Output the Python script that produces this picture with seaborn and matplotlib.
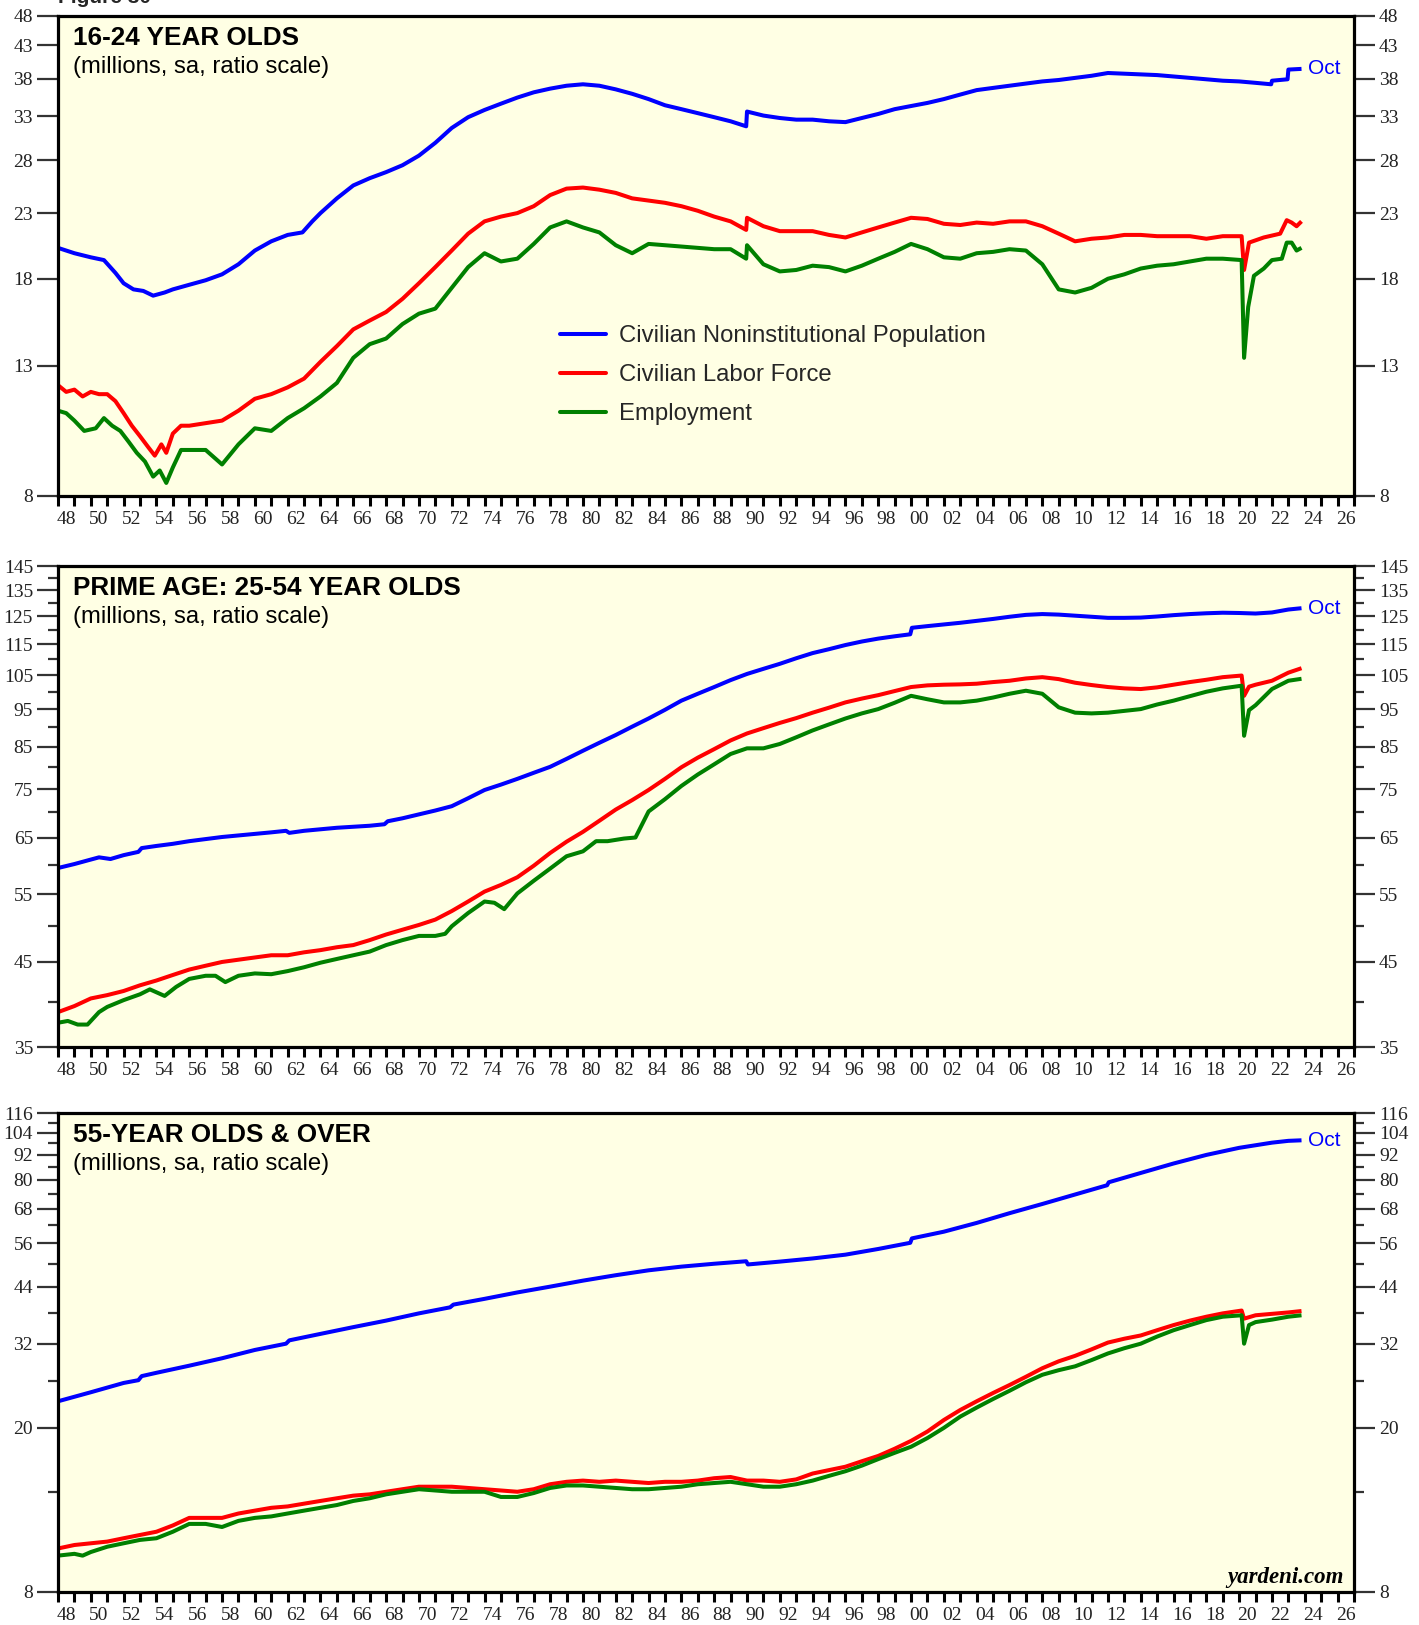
import matplotlib
matplotlib.use("Agg")
import matplotlib.pyplot as plt
import pandas as pd
import seaborn as sns
from matplotlib.lines import Line2D
from matplotlib.ticker import FixedLocator, FixedFormatter, NullFormatter

# ---------------- DATA (millions) ----------------
# 16-24 year olds
T_POP_YR = [1948.0, 1949.0, 1950.0, 1950.8, 1951.5, 1952.0, 1952.6, 1953.2, 1953.8, 1954.5, 1955.0, 1956.0, 1957.0,
            1958.0, 1959.0, 1960.0, 1961.0, 1962.0, 1962.9, 1963.5, 1964.0, 1965.0, 1966.0, 1967.0, 1968.0, 1969.0,
            1970.0, 1971.0, 1972.0, 1973.0, 1974.0, 1975.0, 1976.0, 1977.0, 1978.0, 1979.0, 1980.0, 1981.0, 1982.0,
            1983.0, 1984.0, 1985.0, 1986.0, 1987.0, 1988.0, 1989.0, 1989.95, 1990.0, 1991.0, 1992.0, 1993.0, 1994.0,
            1995.0, 1996.0, 1997.0, 1998.0, 1999.0, 2000.0, 2001.0, 2002.0, 2003.0, 2004.0, 2005.0, 2006.0, 2007.0,
            2008.0, 2009.0, 2010.0, 2011.0, 2012.0, 2013.0, 2014.0, 2015.0, 2016.0, 2017.0, 2018.0, 2019.0, 2020.0,
            2021.0, 2021.95, 2022.0, 2022.95, 2023.0, 2023.8]
T_POP = [20.2, 19.8, 19.5, 19.3, 18.4, 17.7, 17.3, 17.2, 16.9, 17.1, 17.3, 17.6, 17.9,
         18.3, 19.0, 20.0, 20.7, 21.2, 21.4, 22.3, 23.0, 24.3, 25.5, 26.2, 26.8, 27.5,
         28.5, 29.9, 31.6, 32.9, 33.8, 34.6, 35.4, 36.1, 36.6, 37.0, 37.2, 37.0, 36.5,
         35.9, 35.2, 34.4, 33.9, 33.4, 32.9, 32.4, 31.8, 33.6, 33.1, 32.8, 32.6, 32.6,
         32.4, 32.3, 32.8, 33.3, 33.9, 34.3, 34.7, 35.2, 35.8, 36.4, 36.7, 37.0, 37.3,
         37.6, 37.8, 38.1, 38.4, 38.8, 38.7, 38.6, 38.5, 38.3, 38.1, 37.9, 37.7, 37.6,
         37.4, 37.2, 37.7, 37.9, 39.3, 39.4]

T_LF_YR = [1948.0, 1948.5, 1949.0, 1949.5, 1950.0, 1950.5, 1951.0, 1951.5, 1952.0, 1952.5, 1953.0, 1953.5, 1953.9,
           1954.3, 1954.6, 1955.0, 1955.5, 1956.0, 1957.0, 1958.0, 1959.0, 1960.0, 1961.0, 1962.0, 1963.0, 1964.0,
           1965.0, 1966.0, 1967.0, 1968.0, 1969.0, 1970.0, 1971.0, 1972.0, 1973.0, 1974.0, 1975.0, 1976.0, 1977.0,
           1978.0, 1979.0, 1980.0, 1981.0, 1982.0, 1983.0, 1984.0, 1985.0, 1986.0, 1987.0, 1988.0, 1989.0, 1989.95,
           1990.0, 1991.0, 1992.0, 1993.0, 1994.0, 1995.0, 1996.0, 1997.0, 1998.0, 1999.0, 2000.0, 2001.0, 2002.0,
           2003.0, 2004.0, 2005.0, 2006.0, 2007.0, 2008.0, 2009.0, 2010.0, 2011.0, 2012.0, 2013.0, 2014.0, 2015.0,
           2016.0, 2017.0, 2018.0, 2019.0, 2020.15, 2020.3, 2020.6, 2021.5, 2022.5, 2022.9, 2023.2, 2023.5, 2023.8]
T_LF = [12.1, 11.8, 11.9, 11.6, 11.8, 11.7, 11.7, 11.4, 10.9, 10.4, 10.0, 9.6, 9.3,
        9.7, 9.4, 10.1, 10.4, 10.4, 10.5, 10.6, 11.0, 11.5, 11.7, 12.0, 12.4, 13.2,
        14.0, 14.9, 15.4, 15.9, 16.7, 17.7, 18.8, 20.0, 21.3, 22.3, 22.7, 23.0, 23.6,
        24.6, 25.2, 25.3, 25.1, 24.8, 24.3, 24.1, 23.9, 23.6, 23.2, 22.7, 22.3, 21.6,
        22.6, 21.9, 21.5, 21.5, 21.5, 21.2, 21.0, 21.4, 21.8, 22.2, 22.6, 22.5, 22.1,
        22.0, 22.2, 22.1, 22.3, 22.3, 21.9, 21.3, 20.7, 20.9, 21.0, 21.2, 21.2, 21.1,
        21.1, 21.1, 20.9, 21.1, 21.1, 18.6, 20.6, 21.0, 21.3, 22.4, 22.2, 21.9, 22.3]

T_EMP_YR = [1948.0, 1948.5, 1949.0, 1949.6, 1950.3, 1950.8, 1951.3, 1951.8, 1952.3, 1952.8, 1953.3, 1953.8, 1954.2,
            1954.6, 1955.0, 1955.5, 1956.0, 1957.0, 1958.0, 1959.0, 1960.0, 1961.0, 1962.0, 1963.0, 1964.0, 1965.0,
            1966.0, 1967.0, 1968.0, 1969.0, 1970.0, 1971.0, 1972.0, 1973.0, 1974.0, 1975.0, 1976.0, 1977.0, 1978.0,
            1979.0, 1980.0, 1981.0, 1982.0, 1983.0, 1984.0, 1985.0, 1986.0, 1987.0, 1988.0, 1989.0, 1989.95, 1990.0,
            1991.0, 1992.0, 1993.0, 1994.0, 1995.0, 1996.0, 1997.0, 1998.0, 1999.0, 2000.0, 2001.0, 2002.0, 2003.0,
            2004.0, 2005.0, 2006.0, 2007.0, 2008.0, 2009.0, 2010.0, 2011.0, 2012.0, 2013.0, 2014.0, 2015.0, 2016.0,
            2017.0, 2018.0, 2019.0, 2020.15, 2020.3, 2020.55, 2020.9, 2021.5, 2022.0, 2022.6, 2022.9, 2023.2, 2023.5,
            2023.8]
T_EMP = [11.0, 10.9, 10.6, 10.2, 10.3, 10.7, 10.4, 10.2, 9.8, 9.4, 9.1, 8.6, 8.8,
         8.4, 8.9, 9.5, 9.5, 9.5, 9.0, 9.7, 10.3, 10.2, 10.7, 11.1, 11.6, 12.2,
         13.4, 14.1, 14.4, 15.2, 15.8, 16.1, 17.4, 18.8, 19.8, 19.2, 19.4, 20.5, 21.8,
         22.3, 21.8, 21.4, 20.4, 19.8, 20.5, 20.4, 20.3, 20.2, 20.1, 20.1, 19.4, 20.4,
         19.0, 18.5, 18.6, 18.9, 18.8, 18.5, 18.9, 19.4, 19.9, 20.5, 20.1, 19.5, 19.4,
         19.8, 19.9, 20.1, 20.0, 19.0, 17.3, 17.1, 17.4, 18.0, 18.3, 18.7, 18.9, 19.0,
         19.2, 19.4, 19.4, 19.3, 13.4, 16.2, 18.2, 18.7, 19.3, 19.4, 20.6, 20.6, 20.0,
         20.2]

# Prime age: 25-54 year olds
P_POP_YR = [1948, 1949, 1950, 1950.5, 1951.2, 1952, 1952.9, 1953.1, 1954, 1955, 1956, 1957, 1958, 1959, 1960,
            1961, 1961.9, 1962.1, 1963, 1964, 1965, 1966, 1967, 1967.9, 1968.1, 1969, 1970, 1971, 1972, 1973,
            1974, 1975, 1976, 1977, 1978, 1979, 1980, 1981, 1982, 1983, 1984, 1985, 1986, 1987, 1988, 1989,
            1990, 1991, 1992, 1993, 1994, 1995, 1996, 1997, 1998, 1999, 1999.95, 2000.05, 2001, 2002, 2003,
            2004, 2005, 2006, 2007, 2008, 2009, 2010, 2011, 2012, 2013, 2014, 2015, 2016, 2017, 2018, 2019,
            2020, 2021, 2022, 2023, 2023.8]
P_POP = [59.4, 60.1, 60.9, 61.3, 61.0, 61.7, 62.3, 63.0, 63.4, 63.8, 64.3, 64.7, 65.1, 65.4, 65.7,
         66.0, 66.3, 65.9, 66.3, 66.6, 66.9, 67.1, 67.3, 67.6, 68.2, 68.8, 69.6, 70.4, 71.3, 73.0,
         74.8, 76.0, 77.3, 78.7, 80.1, 82.0, 84.0, 86.0, 88.0, 90.2, 92.4, 94.8, 97.4, 99.4, 101.4, 103.5,
         105.4, 107.0, 108.6, 110.4, 112.1, 113.4, 114.8, 116.0, 117.0, 117.8, 118.5, 120.8, 121.4, 122.0, 122.6,
         123.3, 124.0, 124.8, 125.5, 125.8, 125.6, 125.2, 124.8, 124.4, 124.4, 124.5, 124.9, 125.4, 125.8, 126.1,
         126.3, 126.2, 126.0, 126.4, 127.5, 128.0]

P_LF_YR = [1948, 1949, 1950, 1951, 1952, 1953, 1954, 1955, 1956, 1957, 1958, 1959, 1960, 1961, 1962, 1963,
           1964, 1965, 1966, 1967, 1968, 1969, 1970, 1971, 1972, 1973, 1974, 1975, 1976, 1977, 1978, 1979,
           1980, 1981, 1982, 1983, 1984, 1985, 1986, 1987, 1988, 1989, 1990, 1991, 1992, 1993, 1994, 1995,
           1996, 1997, 1998, 1999, 2000, 2001, 2002, 2003, 2004, 2005, 2006, 2007, 2008, 2009, 2010, 2011,
           2012, 2013, 2014, 2015, 2016, 2017, 2018, 2019, 2020.15, 2020.3, 2020.6, 2021, 2022, 2023, 2023.8]
P_LF = [38.8, 39.5, 40.4, 40.8, 41.3, 42.0, 42.6, 43.3, 44.0, 44.5, 45.0, 45.3, 45.6, 45.9, 45.9, 46.3,
        46.6, 47.0, 47.3, 48.0, 48.8, 49.5, 50.2, 51.0, 52.3, 53.8, 55.4, 56.5, 57.8, 59.8, 62.1, 64.2,
        66.1, 68.3, 70.6, 72.6, 74.8, 77.3, 80.0, 82.3, 84.4, 86.6, 88.4, 89.8, 91.2, 92.5, 94.0, 95.4,
        96.9, 98.0, 99.0, 100.2, 101.4, 101.9, 102.1, 102.2, 102.4, 102.9, 103.3, 104.0, 104.4, 103.8, 102.7, 102.0,
        101.4, 101.0, 100.8, 101.3, 102.1, 102.9, 103.6, 104.4, 104.9, 98.8, 101.5, 102.1, 103.3, 105.8, 107.2]

P_EMP_YR = [1948, 1948.6, 1949.2, 1949.8, 1950.5, 1951, 1952, 1953, 1953.6, 1954.5, 1955.2, 1956, 1957, 1957.6,
            1958.2, 1959, 1960, 1961, 1962, 1963, 1964, 1965, 1966, 1967, 1968, 1969, 1970, 1971, 1971.6, 1972,
            1973, 1974, 1974.6, 1975.2, 1976, 1977, 1978, 1979, 1980, 1980.8, 1981.5, 1982.5, 1983.2, 1984, 1985,
            1986, 1987, 1988, 1989, 1990, 1991, 1992, 1993, 1994, 1995, 1996, 1997, 1998, 1999, 2000, 2001,
            2002, 2003, 2004, 2005, 2006, 2007, 2008, 2009, 2010, 2011, 2012, 2013, 2014, 2015, 2016, 2017,
            2018, 2019, 2020.15, 2020.3, 2020.6, 2021, 2022, 2023, 2023.8]
P_EMP = [37.6, 37.8, 37.4, 37.4, 38.8, 39.4, 40.2, 40.9, 41.5, 40.7, 41.8, 42.8, 43.2, 43.2,
         42.4, 43.2, 43.5, 43.4, 43.8, 44.3, 44.9, 45.4, 45.9, 46.4, 47.3, 48.0, 48.6, 48.6, 48.9, 50.0,
         52.0, 53.8, 53.6, 52.6, 55.1, 57.2, 59.3, 61.5, 62.4, 64.3, 64.3, 64.8, 65.0, 70.2, 72.8,
         75.7, 78.3, 80.7, 83.2, 84.6, 84.6, 85.7, 87.4, 89.2, 90.8, 92.4, 93.8, 95.0, 96.8, 98.8, 97.8,
         96.9, 96.9, 97.4, 98.3, 99.4, 100.3, 99.4, 95.5, 94.0, 93.8, 94.0, 94.5, 95.0, 96.3, 97.4, 98.7,
         100.0, 101.0, 101.8, 87.8, 94.7, 96.1, 100.8, 103.3, 103.9]

# 55-year olds & over
O_POP_YR = [1948, 1950, 1952, 1952.9, 1953.1, 1954, 1956, 1958, 1960, 1961.9, 1962.1, 1964, 1966, 1968, 1970,
            1971.9, 1972.1, 1974, 1976, 1978, 1980, 1982, 1984, 1986, 1988, 1989.95, 1990.05, 1992, 1994, 1996,
            1998, 1999.95, 2000.05, 2002, 2004, 2006, 2008, 2010, 2011.95, 2012.05, 2014, 2016, 2018, 2020, 2022,
            2023, 2023.8]
O_POP = [23.2, 24.4, 25.7, 26.1, 26.7, 27.2, 28.3, 29.5, 30.9, 32.0, 32.6, 33.8, 35.1, 36.4, 37.9,
         39.2, 39.8, 41.1, 42.6, 44.0, 45.5, 46.9, 48.2, 49.2, 50.0, 50.7, 49.8, 50.6, 51.5, 52.6,
         54.3, 56.2, 57.6, 59.8, 62.8, 66.3, 69.8, 73.6, 77.5, 78.8, 83.0, 87.5, 91.8, 95.5, 98.3,
         99.3, 99.6]

O_LF_YR = [1948, 1949, 1950, 1951, 1952, 1953, 1954, 1955, 1956, 1957, 1958, 1959, 1960, 1961, 1962, 1963,
           1964, 1965, 1966, 1967, 1968, 1969, 1970, 1971, 1972, 1973, 1974, 1975, 1976, 1977, 1978, 1979,
           1980, 1981, 1982, 1983, 1984, 1985, 1986, 1987, 1988, 1989, 1990, 1991, 1992, 1993, 1994, 1995,
           1996, 1997, 1998, 1999, 2000, 2001, 2002, 2003, 2004, 2005, 2006, 2007, 2008, 2009, 2010, 2011,
           2012, 2013, 2014, 2015, 2016, 2017, 2018, 2019, 2020.15, 2020.3, 2021, 2022, 2023, 2023.8]
O_LF = [10.2, 10.4, 10.5, 10.6, 10.8, 11.0, 11.2, 11.6, 12.1, 12.1, 12.1, 12.4, 12.6, 12.8, 12.9, 13.1,
        13.3, 13.5, 13.7, 13.8, 14.0, 14.2, 14.4, 14.4, 14.4, 14.3, 14.2, 14.1, 14.0, 14.2, 14.6, 14.8,
        14.9, 14.8, 14.9, 14.8, 14.7, 14.8, 14.8, 14.9, 15.1, 15.2, 14.9, 14.9, 14.8, 15.0, 15.5, 15.8,
        16.1, 16.6, 17.1, 17.8, 18.6, 19.6, 20.9, 22.1, 23.2, 24.3, 25.4, 26.6, 27.9, 29.0, 29.9, 31.0,
        32.2, 32.9, 33.5, 34.5, 35.5, 36.4, 37.2, 37.9, 38.5, 36.8, 37.5, 37.8, 38.1, 38.4]

O_EMP_YR = [1948, 1949, 1949.5, 1950, 1951, 1952, 1953, 1954, 1955, 1956, 1957, 1958, 1959, 1960, 1961, 1962,
            1963, 1964, 1965, 1966, 1967, 1968, 1969, 1970, 1971, 1972, 1973, 1974, 1975, 1976, 1977, 1978,
            1979, 1980, 1981, 1982, 1983, 1984, 1985, 1986, 1987, 1988, 1989, 1990, 1991, 1992, 1993, 1994,
            1995, 1996, 1997, 1998, 1999, 2000, 2001, 2002, 2003, 2004, 2005, 2006, 2007, 2008, 2009, 2010,
            2011, 2012, 2013, 2014, 2015, 2016, 2017, 2018, 2019, 2020.15, 2020.3, 2020.6, 2021, 2022, 2023,
            2023.8]
O_EMP = [9.8, 9.9, 9.8, 10.0, 10.3, 10.5, 10.7, 10.8, 11.2, 11.7, 11.7, 11.5, 11.9, 12.1, 12.2, 12.4,
         12.6, 12.8, 13.0, 13.3, 13.5, 13.8, 14.0, 14.2, 14.1, 14.0, 14.0, 14.0, 13.6, 13.6, 13.9, 14.3,
         14.5, 14.5, 14.4, 14.3, 14.2, 14.2, 14.3, 14.4, 14.6, 14.7, 14.8, 14.6, 14.4, 14.4, 14.6, 14.9,
         15.3, 15.7, 16.2, 16.8, 17.4, 18.0, 18.9, 20.0, 21.3, 22.4, 23.5, 24.6, 25.8, 26.9, 27.6, 28.2,
         29.2, 30.3, 31.2, 32.0, 33.3, 34.5, 35.5, 36.5, 37.2, 37.5, 32.0, 35.5, 36.1, 36.6, 37.2,
         37.5]

TOP_TICKS = [8, 13, 18, 23, 28, 33, 38, 43, 48]
MID_TICKS = [35, 45, 55, 65, 75, 85, 95, 105, 115, 125, 135, 145]
MID_MINOR = [40, 50, 60, 70, 80, 90, 100, 110, 120, 130, 140]
BOT_TICKS = [8, 20, 32, 44, 56, 68, 80, 92, 104, 116]
BOT_MINOR = [14, 26, 38, 50, 62, 74, 86, 98, 110]
YEARS = list(range(1948, 2028))
YEAR_LABELS = [f"{y % 100:02d}" for y in range(1948, 2027, 2)]

TITLES = ["16-24 YEAR OLDS", "PRIME AGE: 25-54 YEAR OLDS", "55-YEAR OLDS & OVER"]
SUBTITLE = "(millions, sa, ratio scale)"
SERIES_NAMES = ["Civilian Noninstitutional Population", "Civilian Labor Force", "Employment"]

# ---------------- STYLE ----------------
sns.set_style("ticks")
plt.rcParams["font.family"] = ["Liberation Sans", "DejaVu Sans"]
BG = "#ffffe4"
COLORS = ["#0000ff", "#ff0000", "#008000"]
LW = 2.9

fig = plt.figure(figsize=(14.19, 16.25), dpi=100)
W, H = 1419.0, 1625.0
L, R = 58, 1354
panel_px = [(16, 496), (566, 1047), (1113, 1592)]
axes = [fig.add_axes([L / W, 1 - b / H, (R - L) / W, (b - t) / H]) for t, b in panel_px]

panels = [
    [(T_POP_YR, T_POP), (T_LF_YR, T_LF), (T_EMP_YR, T_EMP)],
    [(P_POP_YR, P_POP), (P_LF_YR, P_LF), (P_EMP_YR, P_EMP)],
    [(O_POP_YR, O_POP), (O_LF_YR, O_LF), (O_EMP_YR, O_EMP)],
]
limits = [(8, 48), (35, 145), (8, 116)]
majors = [TOP_TICKS, MID_TICKS, BOT_TICKS]
minors = [[], MID_MINOR, BOT_MINOR]

for i, ax in enumerate(axes):
    ax.set_yscale("log")
    for (xs, ys), c, name in zip(panels[i], COLORS, SERIES_NAMES):
        assert len(xs) == len(ys), (i, name, len(xs), len(ys))
        df = pd.DataFrame({"year": xs, "value": ys})
        sns.lineplot(data=df, x="year", y="value", ax=ax, color=c, lw=LW, legend=False,
                     estimator=None, sort=False, solid_joinstyle="round", solid_capstyle="butt")
    ax.set_xlabel("")
    ax.set_ylabel("")
    ax.set_facecolor(BG)
    ax.set_xlim(1948, 2027)
    ax.set_ylim(*limits[i])
    for s in ax.spines.values():
        s.set_visible(True)
        s.set_linewidth(2.3)
        s.set_color("black")

    ax.yaxis.set_major_locator(FixedLocator(majors[i]))
    ax.yaxis.set_major_formatter(FixedFormatter([str(v) for v in majors[i]]))
    ax.yaxis.set_minor_locator(FixedLocator(minors[i]))
    ax.yaxis.set_minor_formatter(NullFormatter())
    ax.tick_params(axis="y", which="major", direction="out", length=15, width=1.6, color="#333333",
                   left=True, right=True, labelleft=True, labelright=True, labelsize=14, pad=3,
                   labelfontfamily="Liberation Serif", labelcolor="#222222")
    ax.tick_params(axis="y", which="minor", direction="out", length=7, width=1.6, color="#333333",
                   left=True, right=True)

    ax.xaxis.set_major_locator(FixedLocator(YEARS))
    ax.xaxis.set_major_formatter(NullFormatter())
    ax.xaxis.set_minor_locator(FixedLocator([y + 0.5 for y in range(1948, 2027, 2)]))
    ax.xaxis.set_minor_formatter(FixedFormatter(YEAR_LABELS))
    ax.tick_params(axis="x", which="major", direction="out", length=7, width=2.2, color="black",
                   bottom=True, top=False)
    ax.tick_params(axis="x", which="minor", length=0, labelsize=14, pad=11,
                   labelfontfamily="Liberation Serif", labelcolor="#222222")

    ax.annotate(TITLES[i], xy=(0, 1), xycoords="axes fraction", xytext=(15, -29),
                textcoords="offset pixels", va="baseline", ha="left", fontsize=18.8,
                fontweight="bold", color="black")
    ax.annotate(SUBTITLE, xy=(0, 1), xycoords="axes fraction", xytext=(15, -57),
                textcoords="offset pixels", va="baseline", ha="left", fontsize=17.2, color="black")

    xs, ys = panels[i][0]
    ax.annotate("Oct", xy=(xs[-1], ys[-1]), xycoords="data", xytext=(6, 0),
                textcoords="offset pixels", va="center", ha="left", fontsize=15, color=COLORS[0])

handles = [Line2D([0], [0], color=c, lw=LW) for c in COLORS]
axes[0].legend(handles, SERIES_NAMES, loc="upper left", bbox_to_anchor=(0.371, 0.401),
               frameon=False, fontsize=17.2, handlelength=1.9, handletextpad=0.56, labelspacing=0.72)

axes[2].text(0.992, 0.018, "yardeni.com", transform=axes[2].transAxes, ha="right", va="baseline",
             fontsize=16.5, fontweight="bold", fontstyle="italic", family="Liberation Serif", color="black")

fig.text(58 / W, 1 - 3 / H, "Figure 30", ha="left", va="baseline", fontsize=15, fontweight="bold")

fig.savefig("out.png", dpi=100, facecolor="white")
